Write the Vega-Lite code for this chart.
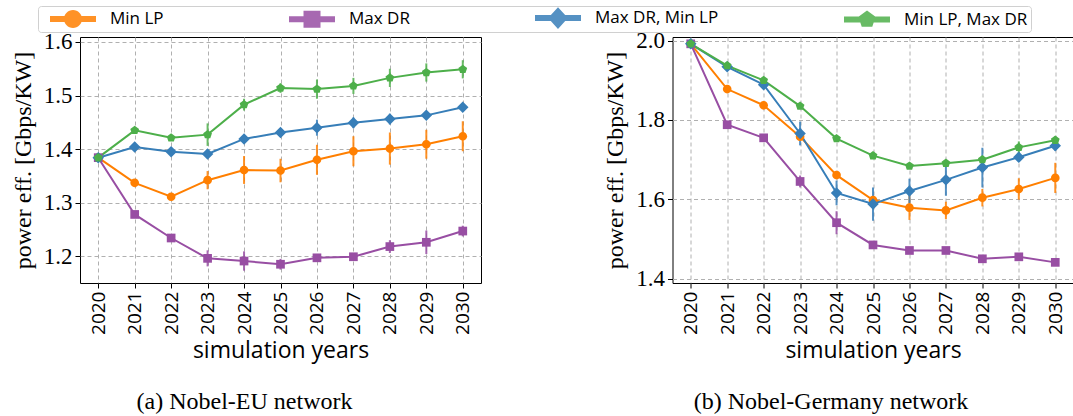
{
  "$schema": "https://vega.github.io/schema/vega-lite/v6.json",
  "background": "white",
  "padding": {"left": 10, "top": 5, "right": 0, "bottom": 0},
  "bounds": "flush",
  "spacing": 191.5,
  "datasets": {
    "eu": [
      {"year": 2020, "strategy": "Min LP", "eff": 1.384, "err": 0.004},
      {"year": 2021, "strategy": "Min LP", "eff": 1.337, "err": 0.005},
      {"year": 2022, "strategy": "Min LP", "eff": 1.311, "err": 0.005},
      {"year": 2023, "strategy": "Min LP", "eff": 1.342, "err": 0.017},
      {"year": 2024, "strategy": "Min LP", "eff": 1.361, "err": 0.026},
      {"year": 2025, "strategy": "Min LP", "eff": 1.360, "err": 0.022},
      {"year": 2026, "strategy": "Min LP", "eff": 1.380, "err": 0.028},
      {"year": 2027, "strategy": "Min LP", "eff": 1.396, "err": 0.028},
      {"year": 2028, "strategy": "Min LP", "eff": 1.401, "err": 0.030},
      {"year": 2029, "strategy": "Min LP", "eff": 1.409, "err": 0.027},
      {"year": 2030, "strategy": "Min LP", "eff": 1.424, "err": 0.028},
      {"year": 2020, "strategy": "Max DR", "eff": 1.384, "err": 0.004},
      {"year": 2021, "strategy": "Max DR", "eff": 1.278, "err": 0.005},
      {"year": 2022, "strategy": "Max DR", "eff": 1.234, "err": 0.006},
      {"year": 2023, "strategy": "Max DR", "eff": 1.196, "err": 0.015},
      {"year": 2024, "strategy": "Max DR", "eff": 1.191, "err": 0.018},
      {"year": 2025, "strategy": "Max DR", "eff": 1.185, "err": 0.010},
      {"year": 2026, "strategy": "Max DR", "eff": 1.197, "err": 0.006},
      {"year": 2027, "strategy": "Max DR", "eff": 1.199, "err": 0.006},
      {"year": 2028, "strategy": "Max DR", "eff": 1.218, "err": 0.012},
      {"year": 2029, "strategy": "Max DR", "eff": 1.226, "err": 0.022},
      {"year": 2030, "strategy": "Max DR", "eff": 1.247, "err": 0.010},
      {"year": 2020, "strategy": "Max DR, Min LP", "eff": 1.384, "err": 0.004},
      {"year": 2021, "strategy": "Max DR, Min LP", "eff": 1.404, "err": 0.005},
      {"year": 2022, "strategy": "Max DR, Min LP", "eff": 1.395, "err": 0.005},
      {"year": 2023, "strategy": "Max DR, Min LP", "eff": 1.391, "err": 0.005},
      {"year": 2024, "strategy": "Max DR, Min LP", "eff": 1.419, "err": 0.006},
      {"year": 2025, "strategy": "Max DR, Min LP", "eff": 1.431, "err": 0.008},
      {"year": 2026, "strategy": "Max DR, Min LP", "eff": 1.440, "err": 0.015},
      {"year": 2027, "strategy": "Max DR, Min LP", "eff": 1.449, "err": 0.010},
      {"year": 2028, "strategy": "Max DR, Min LP", "eff": 1.456, "err": 0.010},
      {"year": 2029, "strategy": "Max DR, Min LP", "eff": 1.463, "err": 0.006},
      {"year": 2030, "strategy": "Max DR, Min LP", "eff": 1.478, "err": 0.006},
      {"year": 2020, "strategy": "Min LP, Max DR", "eff": 1.384, "err": 0.004},
      {"year": 2021, "strategy": "Min LP, Max DR", "eff": 1.435, "err": 0.005},
      {"year": 2022, "strategy": "Min LP, Max DR", "eff": 1.421, "err": 0.005},
      {"year": 2023, "strategy": "Min LP, Max DR", "eff": 1.427, "err": 0.021},
      {"year": 2024, "strategy": "Min LP, Max DR", "eff": 1.483, "err": 0.011},
      {"year": 2025, "strategy": "Min LP, Max DR", "eff": 1.514, "err": 0.009},
      {"year": 2026, "strategy": "Min LP, Max DR", "eff": 1.512, "err": 0.018},
      {"year": 2027, "strategy": "Min LP, Max DR", "eff": 1.518, "err": 0.015},
      {"year": 2028, "strategy": "Min LP, Max DR", "eff": 1.533, "err": 0.017},
      {"year": 2029, "strategy": "Min LP, Max DR", "eff": 1.543, "err": 0.017},
      {"year": 2030, "strategy": "Min LP, Max DR", "eff": 1.549, "err": 0.017}
    ],
    "de": [
      {"year": 2020, "strategy": "Min LP", "eff": 1.992, "err": 0.004},
      {"year": 2021, "strategy": "Min LP", "eff": 1.878, "err": 0.005},
      {"year": 2022, "strategy": "Min LP", "eff": 1.837, "err": 0.005},
      {"year": 2023, "strategy": "Min LP", "eff": 1.758, "err": 0.006},
      {"year": 2024, "strategy": "Min LP", "eff": 1.661, "err": 0.008},
      {"year": 2025, "strategy": "Min LP", "eff": 1.598, "err": 0.010},
      {"year": 2026, "strategy": "Min LP", "eff": 1.579, "err": 0.031},
      {"year": 2027, "strategy": "Min LP", "eff": 1.572, "err": 0.022},
      {"year": 2028, "strategy": "Min LP", "eff": 1.604, "err": 0.022},
      {"year": 2029, "strategy": "Min LP", "eff": 1.626, "err": 0.027},
      {"year": 2030, "strategy": "Min LP", "eff": 1.654, "err": 0.038},
      {"year": 2020, "strategy": "Max DR", "eff": 1.992, "err": 0.004},
      {"year": 2021, "strategy": "Max DR", "eff": 1.788, "err": 0.005},
      {"year": 2022, "strategy": "Max DR", "eff": 1.755, "err": 0.005},
      {"year": 2023, "strategy": "Max DR", "eff": 1.645, "err": 0.015},
      {"year": 2024, "strategy": "Max DR", "eff": 1.541, "err": 0.029},
      {"year": 2025, "strategy": "Max DR", "eff": 1.485, "err": 0.006},
      {"year": 2026, "strategy": "Max DR", "eff": 1.471, "err": 0.005},
      {"year": 2027, "strategy": "Max DR", "eff": 1.471, "err": 0.005},
      {"year": 2028, "strategy": "Max DR", "eff": 1.450, "err": 0.005},
      {"year": 2029, "strategy": "Max DR", "eff": 1.455, "err": 0.005},
      {"year": 2030, "strategy": "Max DR", "eff": 1.441, "err": 0.005},
      {"year": 2020, "strategy": "Max DR, Min LP", "eff": 1.992, "err": 0.004},
      {"year": 2021, "strategy": "Max DR, Min LP", "eff": 1.934, "err": 0.005},
      {"year": 2022, "strategy": "Max DR, Min LP", "eff": 1.889, "err": 0.005},
      {"year": 2023, "strategy": "Max DR, Min LP", "eff": 1.766, "err": 0.030},
      {"year": 2024, "strategy": "Max DR, Min LP", "eff": 1.616, "err": 0.031},
      {"year": 2025, "strategy": "Max DR, Min LP", "eff": 1.588, "err": 0.042},
      {"year": 2026, "strategy": "Max DR, Min LP", "eff": 1.621, "err": 0.031},
      {"year": 2027, "strategy": "Max DR, Min LP", "eff": 1.649, "err": 0.040},
      {"year": 2028, "strategy": "Max DR, Min LP", "eff": 1.680, "err": 0.050},
      {"year": 2029, "strategy": "Max DR, Min LP", "eff": 1.706, "err": 0.012},
      {"year": 2030, "strategy": "Max DR, Min LP", "eff": 1.735, "err": 0.012},
      {"year": 2020, "strategy": "Min LP, Max DR", "eff": 1.992, "err": 0.004},
      {"year": 2021, "strategy": "Min LP, Max DR", "eff": 1.937, "err": 0.005},
      {"year": 2022, "strategy": "Min LP, Max DR", "eff": 1.900, "err": 0.005},
      {"year": 2023, "strategy": "Min LP, Max DR", "eff": 1.835, "err": 0.005},
      {"year": 2024, "strategy": "Min LP, Max DR", "eff": 1.753, "err": 0.005},
      {"year": 2025, "strategy": "Min LP, Max DR", "eff": 1.710, "err": 0.005},
      {"year": 2026, "strategy": "Min LP, Max DR", "eff": 1.684, "err": 0.005},
      {"year": 2027, "strategy": "Min LP, Max DR", "eff": 1.691, "err": 0.005},
      {"year": 2028, "strategy": "Min LP, Max DR", "eff": 1.700, "err": 0.008},
      {"year": 2029, "strategy": "Min LP, Max DR", "eff": 1.731, "err": 0.015},
      {"year": 2030, "strategy": "Min LP, Max DR", "eff": 1.749, "err": 0.010}
    ]
  },
  "config": {
    "view": {"stroke": "black", "strokeWidth": 1},
    "axis": {
      "labelColor": "black",
      "titleFontWeight": "normal",
      "titleColor": "black",
      "domain": false,
      "tickColor": "black",
      "tickSize": 5,
      "grid": true,
      "gridColor": "#b0b0b0",
      "gridDash": [4, 3],
      "gridWidth": 1
    },
    "axisX": {"labelFont": "Open Sans", "labelFontSize": 19, "labelPadding": 3, "titleFont": "Open Sans", "titleFontSize": 23, "titlePadding": 5},
    "axisY": {"labelFont": "Liberation Serif", "labelFontSize": 23, "labelPadding": 3, "titleFont": "Liberation Serif", "titleFontSize": 24, "titlePadding": 8},
    "title": {"font": "Liberation Serif", "fontSize": 24, "fontWeight": "normal", "color": "black"},
    "legend": {
      "orient": "none", "legendX": -42, "legendY": -31, "direction": "horizontal", "columns": 4,
      "columnPadding": 116, "padding": 3, "strokeColor": "#d0d0d0", "cornerRadius": 3, "fillColor": "white",
      "labelFont": "Open Sans", "labelFontSize": 17, "labelColor": "black", "labelOffset": 51, "symbolSize": 324, "symbolStrokeWidth": 0,
      "symbolType": {"expr": "datum.value == 'Min LP' ? 'M0,-0.333H5.11V0.333H0Z M3.556,0A1,1 0 1,1 1.556,0A1,1 0 1,1 3.556,0Z' : datum.value == 'Max DR' ? 'M0,-0.333H5.11V0.333H0Z M1.612,-0.944H3.5V0.944H1.612Z' : datum.value == 'Max DR, Min LP' ? 'M0,-0.333H5.11V0.333H0Z M2.556,-1.2L3.656,0L2.556,1.2L1.456,0Z' : 'M0,-0.333H5.11V0.333H0Z M2.556,-1L3.507,-0.309L3.144,0.809L1.968,0.809L1.605,-0.309Z'"}
    }
  },
  "hconcat": [
    {
      "width": 401,
      "height": 246,
      "data": {"name": "eu"},
      "title": {"text": "(a) Nobel-EU network", "orient": "bottom", "anchor": "middle", "dx": -36, "offset": 28},
      "encoding": {
        "x": {"field": "year", "type": "quantitative",
              "scale": {"domain": [2019.5, 2030.5], "nice": false, "zero": false},
              "axis": {"values": [2020, 2021, 2022, 2023, 2024, 2025, 2026, 2027, 2028, 2029, 2030], "format": "d", "labelAngle": -90, "title": "simulation years"}},
        "y": {"field": "eff", "type": "quantitative",
              "scale": {"domain": [1.150, 1.6093], "nice": false, "zero": false},
              "axis": {"values": [1.2, 1.3, 1.4, 1.5, 1.6], "format": ".1f", "title": "power eff. [Gbps/KW]"}},
        "color": {"field": "strategy", "type": "nominal",
                  "scale": {"domain": ["Min LP", "Max DR", "Max DR, Min LP", "Min LP, Max DR"], "range": ["#ff7f00", "#984ea3", "#377eb8", "#4daf4a"]},
                  "legend": {"title": null}}
      },
      "layer": [
        {"mark": {"type": "errorbar", "thickness": 2, "opacity": 0.85}, "encoding": {"yError": {"field": "err"}}},
        {"mark": {"type": "line", "strokeWidth": 2}},
        {"transform": [{"filter": "datum.strategy == 'Min LP'"}],
         "mark": {"type": "point", "filled": true, "opacity": 1, "size": 100, "shape": "M0.87,0A0.87,0.87 0 1,1 -0.87,0A0.87,0.87 0 1,1 0.87,0Z"}},
        {"transform": [{"filter": "datum.strategy == 'Max DR'"}],
         "mark": {"type": "point", "filled": true, "opacity": 1, "size": 100, "shape": "M-0.87,-0.87H0.87V0.87H-0.87Z"}},
        {"transform": [{"filter": "datum.strategy == 'Max DR, Min LP'"}],
         "mark": {"type": "point", "filled": true, "opacity": 1, "size": 100, "shape": "M0,-1.15L1.15,0L0,1.15L-1.15,0Z"}},
        {"transform": [{"filter": "datum.strategy == 'Min LP, Max DR'"}],
         "mark": {"type": "point", "filled": true, "opacity": 1, "size": 100, "shape": "M0,-0.92L0.875,-0.284L0.541,0.744L-0.541,0.744L-0.875,-0.284Z"}}
      ]
    },
    {
      "width": 401,
      "height": 246,
      "data": {"name": "de"},
      "title": {"text": "(b) Nobel-Germany network", "orient": "bottom", "anchor": "middle", "dx": -42, "offset": 28},
      "encoding": {
        "x": {"field": "year", "type": "quantitative",
              "scale": {"domain": [2019.5, 2030.5], "nice": false, "zero": false},
              "axis": {"values": [2020, 2021, 2022, 2023, 2024, 2025, 2026, 2027, 2028, 2029, 2030], "format": "d", "labelAngle": -90, "title": "simulation years"}},
        "y": {"field": "eff", "type": "quantitative",
              "scale": {"domain": [1.389, 2.0092], "nice": false, "zero": false},
              "axis": {"values": [1.4, 1.6, 1.8, 2.0], "format": ".1f", "title": "power eff. [Gbps/KW]"}},
        "color": {"field": "strategy", "type": "nominal", "legend": {"title": null}}
      },
      "layer": [
        {"mark": {"type": "errorbar", "thickness": 2, "opacity": 0.85}, "encoding": {"yError": {"field": "err"}}},
        {"mark": {"type": "line", "strokeWidth": 2}},
        {"transform": [{"filter": "datum.strategy == 'Min LP'"}],
         "mark": {"type": "point", "filled": true, "opacity": 1, "size": 100, "shape": "M0.87,0A0.87,0.87 0 1,1 -0.87,0A0.87,0.87 0 1,1 0.87,0Z"}},
        {"transform": [{"filter": "datum.strategy == 'Max DR'"}],
         "mark": {"type": "point", "filled": true, "opacity": 1, "size": 100, "shape": "M-0.87,-0.87H0.87V0.87H-0.87Z"}},
        {"transform": [{"filter": "datum.strategy == 'Max DR, Min LP'"}],
         "mark": {"type": "point", "filled": true, "opacity": 1, "size": 100, "shape": "M0,-1.15L1.15,0L0,1.15L-1.15,0Z"}},
        {"transform": [{"filter": "datum.strategy == 'Min LP, Max DR'"}],
         "mark": {"type": "point", "filled": true, "opacity": 1, "size": 100, "shape": "M0,-0.92L0.875,-0.284L0.541,0.744L-0.541,0.744L-0.875,-0.284Z"}}
      ]
    }
  ],
  "resolve": {"scale": {"x": "independent", "y": "independent"}}
}
